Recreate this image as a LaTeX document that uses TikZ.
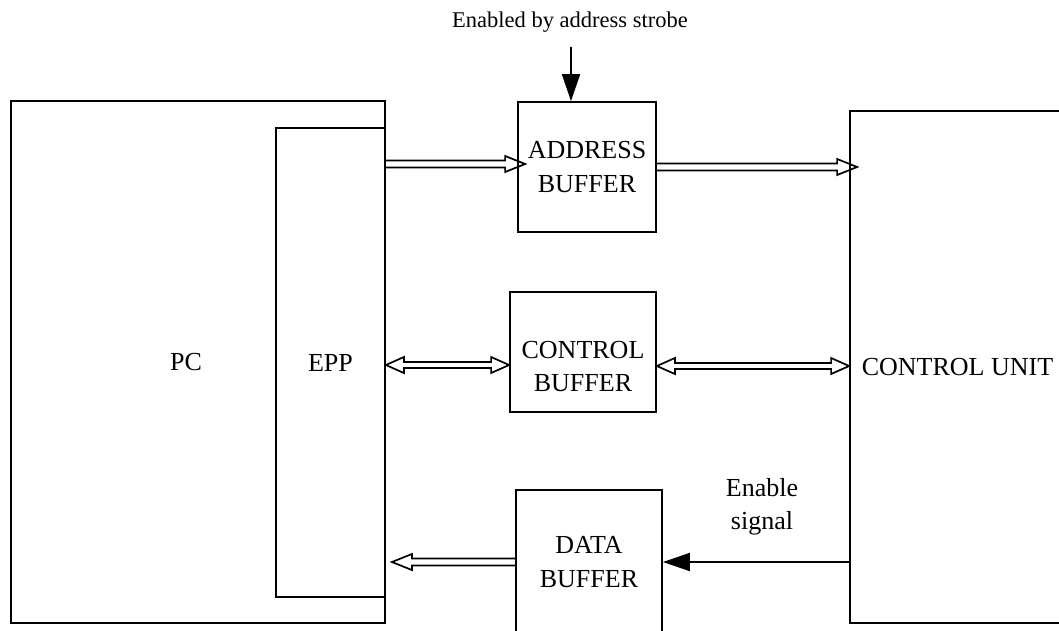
\documentclass[tikz,border=0pt]{standalone}
\usepackage{fontspec}
\setmainfont{Liberation Serif}
\usetikzlibrary{arrows.meta,calc}
\tikzset{
  box/.style={draw, line width=1.8pt, inner sep=0pt, align=center, font=\fontsize{26}{34}\selectfont},
  lbl/.style={align=center, font=\fontsize{26}{33}\selectfont},
  hollow/.style={line width=1.7pt, line join=miter, to path={
    let \p1=(\tikztostart), \p2=(\tikztotarget), \n1={sign(\x2-\x1)} in
    (\x1,\y1+3.5pt) -- (\x2-\n1*20pt,\y1+3.5pt) -- (\x2-\n1*20pt,\y1+8pt) -- (\x2,\y1)
    -- (\x2-\n1*20pt,\y1-8pt) -- (\x2-\n1*20pt,\y1-3.5pt) -- (\x1,\y1-3.5pt)}},
  hollowboth/.style={line width=1.7pt, line join=miter, to path={
    let \p1=(\tikztostart), \p2=(\tikztotarget), \n1={sign(\x2-\x1)} in
    (\x1,\y1) -- (\x1+\n1*18pt,\y1+8pt) -- (\x1+\n1*18pt,\y1+3pt) -- (\x2-\n1*18pt,\y1+3pt)
    -- (\x2-\n1*18pt,\y1+8pt) -- (\x2,\y1) -- (\x2-\n1*18pt,\y1-8pt) -- (\x2-\n1*18pt,\y1-3pt)
    -- (\x1+\n1*18pt,\y1-3pt) -- (\x1+\n1*18pt,\y1-8pt) -- cycle}},
  solidarrow/.style={line width=1.8pt, -{Triangle[length=27pt,width=18pt]}}
}
\begin{document}
\begin{tikzpicture}[x=1pt,y=-1pt]
\clip (0,0) rectangle (1059,630);
\fill[white] (0,0) rectangle (1059,630);

% boxes
\node[box, minimum width=374pt, minimum height=522pt,
      label={[lbl, xshift=-12pt]center:PC}] (pc) at (198,362) {};
\node[box, minimum width=109pt, minimum height=469pt] (epp) at (330.5,362.5) {EPP};
\node[box, minimum width=138pt, minimum height=130pt] (addr) at (587,167) {ADDRESS\\BUFFER};
\node[box, minimum width=146pt, minimum height=120pt,
      label={[lbl, yshift=-15pt]center:CONTROL\\BUFFER}] (ctrl) at (583,352) {};
\node[box, minimum width=146pt, minimum height=144pt] (data) at (589,562) {DATA\\BUFFER};
\node[box, minimum width=215pt, minimum height=512pt] (cu) at (957.5,367) {CONTROL UNIT};

% top label and strobe arrow
\node[font=\fontsize{22.5}{28}\selectfont] (strobelbl) at (570,22) {Enabled by address strobe};
\coordinate (strobe) at (571,47);
\draw[solidarrow] (strobe) -- (strobe |- addr.north);

% hollow bus arrows
\draw[hollow] ([yshift=3pt]addr.west -| epp.east) to ([yshift=3pt,xshift=8pt]addr.west);
\draw[hollow] (addr.east) to ([xshift=8pt]addr.east -| cu.west);
\draw[hollowboth] ([yshift=-13pt]ctrl.west -| epp.east) to ([yshift=-13pt]ctrl.west);
\draw[hollowboth] ([yshift=-14pt]ctrl.east) to ([yshift=-14pt]ctrl.east -| cu.west);
\draw[hollow] (data.west) to ([xshift=6pt]data.west -| epp.east);

% enable signal
\draw[solidarrow] (data.east -| cu.west) -- (data.east);
\node[lbl] (enlbl) at (762,507) {Enable\\signal};
\end{tikzpicture}
\end{document}
